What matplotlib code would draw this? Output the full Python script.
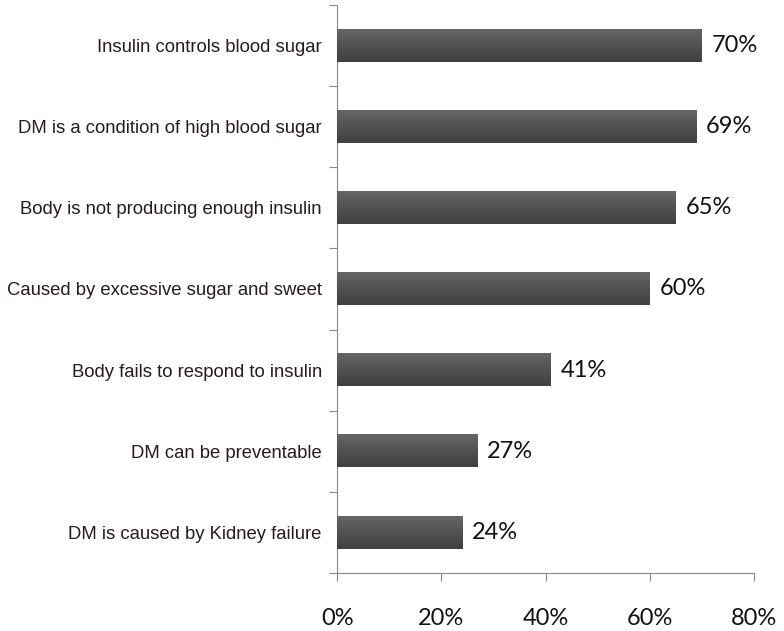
import numpy as np
import matplotlib.pyplot as plt
from matplotlib.ticker import FuncFormatter

labels = ['Insulin controls blood sugar',
          'DM is a condition of high blood sugar',
          'Body is not producing enough insulin',
          'Caused by excessive sugar and sweet',
          'Body fails to respond to insulin',
          'DM can be preventable',
          'DM is caused by Kidney failure']
values = [70, 69, 65, 60, 41, 27, 24]

fig = plt.figure(figsize=(7.84, 6.31), dpi=100)
ax = fig.add_axes([0.430, 0.092, 0.532, 0.900])

y = np.arange(len(labels))[::-1]
bars = ax.barh(y, values, height=0.4, color='#4d4d4d', edgecolor='none', zorder=2)

# vertical shading on each bar, lighter at top
grad = np.linspace(0, 1, 64).reshape(-1, 1)
cmap = plt.matplotlib.colors.LinearSegmentedColormap.from_list('g', ['#666666', '#525252', '#404040'])
for b in bars:
    x0, y0, w, h = b.get_x(), b.get_y(), b.get_width(), b.get_height()
    ax.imshow(grad, extent=(x0, x0 + w, y0, y0 + h), aspect='auto', cmap=cmap, zorder=3)

for yi, v in zip(y, values):
    ax.text(v + 1.8, yi, f'{v}%', va='center', ha='left', fontsize=17, family='Lato', color='#111111')

ax.set_xlim(0, 80)
ax.set_ylim(-0.5, len(labels) - 0.5)
ax.set_xticks([0, 20, 40, 60, 80])
ax.xaxis.set_major_formatter(FuncFormatter(lambda v, p: f'{int(v)}%'))
ax.set_yticks(np.arange(-0.5, len(labels), 1))
ax.set_yticklabels([])
ax.set_yticks(y, minor=True)
ax.set_yticklabels(labels, minor=True, fontsize=13.3, family='Liberation Sans', color='#2a1a1a')
ax.tick_params(axis='y', which='minor', length=0, pad=11)
ax.tick_params(axis='y', which='major', length=6, color='#888888', direction='out')
ax.tick_params(axis='x', length=6, color='#888888', direction='out', pad=19)
for t in ax.get_xticklabels():
    t.set_fontsize(17)
    t.set_family('Lato')
    t.set_color('#111111')

for s in ['top', 'right']:
    ax.spines[s].set_visible(False)
for s in ['left', 'bottom']:
    ax.spines[s].set_color('#888888')

plt.savefig('out.png', dpi=100)
